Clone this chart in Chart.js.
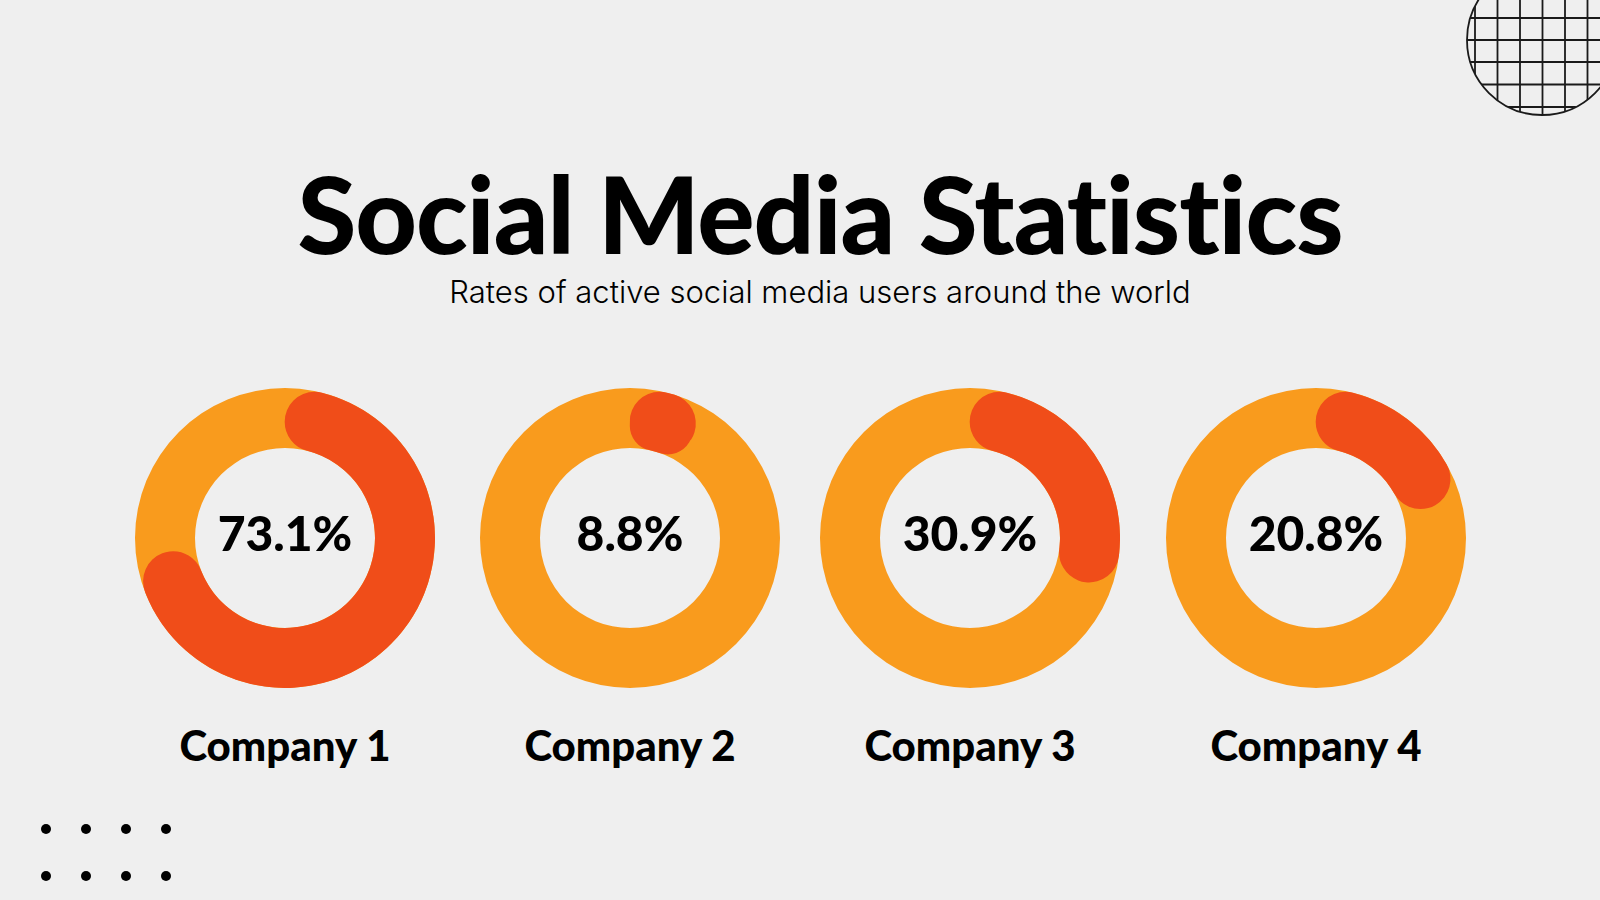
<!DOCTYPE html>
<html>
<head>
<meta charset="utf-8">
<script src="https://cdn.jsdelivr.net/npm/chart.js@4"></script>
<style>
  html, body { margin: 0; padding: 0; }
  body { width: 1600px; height: 900px; background: #efefef; position: relative; overflow: hidden; font-family: Lato, 'Noto Sans', sans-serif; color: #000; }
  .title { position: absolute; left: 20px; width: 1600px; text-align: center; top: 153px; font-weight: 900; font-size: 107px; line-height: 120px; letter-spacing: -1px; }
  .subtitle { position: absolute; left: 20px; width: 1600px; text-align: center; top: 272px; font-family: Inter, Lato, sans-serif; font-weight: 300; font-size: 31px; line-height: 40px; }
  .donut { position: absolute; top: 388px; width: 300px; height: 300px; }
  .label { position: absolute; top: 720px; width: 300px; text-align: center; font-weight: 900; font-size: 42px; line-height: 50px; }
  .deco { position: absolute; }
</style>
</head>
<body>
<div class="title" id="title"></div>
<div class="subtitle" id="subtitle"></div>
<div id="charts"></div>

<svg class="deco" style="left:1440px;top:0" width="160" height="140" viewBox="1440 0 160 140">
  <defs><clipPath id="gridClip"><circle cx="1542" cy="40" r="75"/></clipPath></defs>
  <g clip-path="url(#gridClip)" stroke="#1a1a1a" stroke-width="1.8">
    <line x1="1475" y1="-40" x2="1475" y2="120"/>
    <line x1="1497.5" y1="-40" x2="1497.5" y2="120"/>
    <line x1="1520" y1="-40" x2="1520" y2="120"/>
    <line x1="1542.5" y1="-40" x2="1542.5" y2="120"/>
    <line x1="1565" y1="-40" x2="1565" y2="120"/>
    <line x1="1587.5" y1="-40" x2="1587.5" y2="120"/>
    <line x1="1460" y1="-4" x2="1620" y2="-4"/>
    <line x1="1460" y1="18" x2="1620" y2="18"/>
    <line x1="1460" y1="40" x2="1620" y2="40"/>
    <line x1="1460" y1="62" x2="1620" y2="62"/>
    <line x1="1460" y1="84.5" x2="1620" y2="84.5"/>
    <line x1="1460" y1="107" x2="1620" y2="107"/>
  </g>
  <circle cx="1542" cy="40" r="75" fill="none" stroke="#1a1a1a" stroke-width="1.8"/>
</svg>

<svg class="deco" style="left:30px;top:815px" width="150" height="75">
  <g fill="#000">
    <circle cx="16" cy="14" r="5"/><circle cx="56" cy="14" r="5"/><circle cx="96" cy="14" r="5"/><circle cx="136" cy="14" r="5"/>
    <circle cx="16" cy="61" r="5"/><circle cx="56" cy="61" r="5"/><circle cx="96" cy="61" r="5"/><circle cx="136" cy="61" r="5"/>
  </g>
</svg>

<script>
const chartTitle = 'Social Media Statistics';
const chartSubtitle = 'Rates of active social media users around the world';
const companies = ['Company 1', 'Company 2', 'Company 3', 'Company 4'];
const activeRates = [73.1, 8.8, 30.9, 20.8];

const centerX = [285, 630, 970, 1316];
const ACTIVE_COLOR = '#f04d19';
const TRACK_COLOR = '#f99b1d';

document.getElementById('title').textContent = chartTitle;
document.getElementById('subtitle').textContent = chartSubtitle;

// full orange ring behind the rounded active arc, using the arc geometry chart.js computed
const trackRing = {
  id: 'trackRing',
  beforeDatasetsDraw(chart) {
    const arc = chart.getDatasetMeta(0).data[0];
    if (!arc) return;
    const { ctx } = chart;
    ctx.save();
    ctx.fillStyle = TRACK_COLOR;
    ctx.beginPath();
    ctx.arc(arc.x, arc.y, arc.outerRadius, 0, Math.PI * 2);
    ctx.arc(arc.x, arc.y, arc.innerRadius, Math.PI * 2, 0, true);
    ctx.fill();
    ctx.restore();
  },
};

const centerText = {
  id: 'centerText',
  afterDatasetsDraw(chart) {
    const arc = chart.getDatasetMeta(0).data[0];
    const value = chart.data.datasets[0].data[0];
    const { ctx } = chart;
    ctx.save();
    ctx.fillStyle = '#000';
    ctx.font = '900 48px Lato, "Noto Sans", sans-serif';
    ctx.textAlign = 'center';
    ctx.textBaseline = 'alphabetic';
    ctx.fillText(value + '%', arc.x, arc.y + 13);
    ctx.restore();
  },
};

const holder = document.getElementById('charts');
companies.forEach((name, i) => {
  const box = document.createElement('div');
  box.className = 'donut';
  box.style.left = (centerX[i] - 150) + 'px';
  const canvas = document.createElement('canvas');
  box.appendChild(canvas);
  holder.appendChild(box);

  const label = document.createElement('div');
  label.className = 'label';
  label.style.left = (centerX[i] - 150) + 'px';
  label.textContent = name;
  holder.appendChild(label);

  new Chart(canvas.getContext('2d'), {
    type: 'doughnut',
    data: {
      labels: ['Active', 'Other'],
      datasets: [{
        data: [activeRates[i], +(100 - activeRates[i]).toFixed(1)],
        backgroundColor: [ACTIVE_COLOR, 'rgba(0,0,0,0)'],
        borderWidth: 0,
        borderRadius: [30, 0],
      }],
    },
    options: {
      responsive: true,
      maintainAspectRatio: false,
      animation: false,
      cutout: '60%',
      layout: { padding: 0 },
      events: [],
      plugins: {
        legend: { display: false },
        tooltip: { enabled: false },
      },
    },
    plugins: [trackRing, centerText],
  });
});
</script>
</body>
</html>
